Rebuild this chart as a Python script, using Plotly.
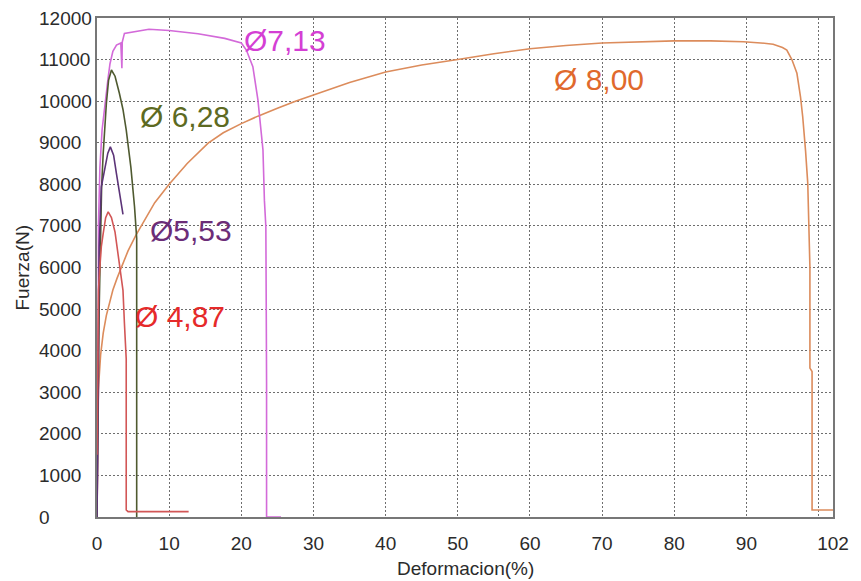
import plotly.graph_objects as go

# Force-deformation curves of steel bars of several diameters (mm)
def_800 = [0, 0.05, 0.18, 0.5, 0.86, 1.3, 1.7, 2.2, 2.8, 3.37, 4.3, 5.4, 6.5, 8, 10, 12.5, 15.4, 17.5,
           20, 22.3, 25, 27.5, 30, 35, 40, 45, 50, 55, 60, 65, 70, 75, 80, 85, 89.6, 92, 93.7, 95, 95.6,
           96.3, 97, 97.5, 97.8, 98.2, 98.5, 98.8, 98.8, 99.1, 99.1, 100, 102]
f_800 = [0, 1500, 3050, 3900, 4420, 4850, 5150, 5460, 5750, 5990, 6400, 6780, 7120, 7560, 8000, 8500,
         8990, 9240, 9460, 9640, 9830, 10000, 10150, 10450, 10700, 10870, 11000, 11140, 11260, 11340,
         11400, 11430, 11450, 11450, 11430, 11400, 11370, 11290, 11230, 11000, 10670, 10100, 9630, 8800,
         8030, 6010, 3580, 3500, 170, 170, 170]

def_713 = [0, 0.2, 0.2, 0.4, 0.7, 1.1, 1.5, 1.8, 2.2, 2.7, 3.3, 3.45, 3.5, 3.8, 5, 7.2, 10, 12.7, 14,
           17.7, 20, 20.7, 21.6, 22.3, 23, 23.2, 23.4, 23.45, 23.55, 23.5, 23.5, 25.5]
f_713 = [0, 3000, 7000, 8400, 9300, 9950, 10500, 10900, 11200, 11350, 11400, 10790, 11420, 11630,
         11670, 11730, 11700, 11640, 11620, 11510, 11400, 11230, 10830, 10030, 8830, 7620, 6980, 5220,
         3220, 3200, 0, 0]

def_628 = [0, 0.3, 0.64, 0.86, 1.3, 1.6, 2.0, 2.5, 3.1, 3.6, 4.05, 4.7, 5.2, 5.45, 5.5, 5.5]
f_628 = [0, 5000, 7940, 8750, 9950, 10500, 10750, 10600, 10190, 9800, 9310, 8400, 7460, 6800, 6700, 0]

def_553 = [0, 0.1, 0.15, 0.3, 0.6, 1.1, 1.5, 1.85, 2.3, 2.7, 3.1, 3.6]
f_553 = [0, 2000, 4500, 6500, 7940, 8350, 8750, 8900, 8700, 8250, 7850, 7280]

def_487 = [0, 0.05, 0.2, 0.4, 0.6, 0.86, 1.2, 1.55, 2.0, 2.5, 3.1, 3.4, 3.6, 3.8, 3.96, 4.05, 4.05,
           4.3, 12.7]
f_487 = [1500, 3000, 5460, 6020, 6500, 6820, 7200, 7340, 7200, 6850, 6150, 5800, 5450, 4660, 3860,
         3800, 170, 130, 130]

# Diameter labels: text, x, y
labels = ["Ø7,13", "Ø 8,00", "Ø 6,28", "Ø5,53", "Ø 4,87"]
label_x = [26.0, 69.6, 12.25, 13.05, 11.5]
label_y = [11470, 10510, 9620, 6890, 4810]

x_ticks = [0, 10, 20, 30, 40, 50, 60, 70, 80, 90, 100, 102]
x_ticktext = ["0", "10", "20", "30", "40", "50", "60", "70", "80", "90", "", "102"]
y_ticks = [0, 1000, 2000, 3000, 4000, 5000, 6000, 7000, 8000, 9000, 10000, 11000, 12000]
y_ticktext = ["0", "1000", "2000", "3000", "4000", "5000", "6000", "7000", "8000", "9000",
              "10000", "11000", "12000"]

FONT = "Liberation Sans, Arial"
TXT = "#2b2b2b"

series = [
    (def_800, f_800, "#dc8c5c"),
    (def_713, f_713, "#d36ad9"),
    (def_628, f_628, "#4f5a30"),
    (def_553, f_553, "#5c3478"),
    (def_487, f_487, "#d25656"),
]
label_colors = ["#d43fd4", "#e0692d", "#5d6a22", "#6c2d78", "#e62a2a"]

fig = go.Figure()
for xs, ys, col in series:
    fig.add_trace(go.Scatter(x=xs, y=ys, mode="lines", line=dict(color=col, width=1.6),
                             showlegend=False, hoverinfo="skip"))

for t, lx, ly, c in zip(labels, label_x, label_y, label_colors):
    fig.add_annotation(x=lx, y=ly, text=t, showarrow=False,
                       font=dict(family=FONT, size=30, color=c))

# Left-aligned force tick labels
for v, t in zip(y_ticks, y_ticktext):
    fig.add_annotation(x=0, xref="paper", y=v, yref="y", xshift=-60, xanchor="left",
                       text=t, showarrow=False, font=dict(family=FONT, size=19, color=TXT))

# Axis titles
fig.add_annotation(x=0, xref="paper", xshift=-75, xanchor="center", y=0.5, yref="paper",
                   yanchor="middle", text="Fuerza(N)", textangle=-90, showarrow=False,
                   font=dict(family=FONT, size=19, color=TXT))
fig.add_annotation(x=0.5, xref="paper", y=0, yref="paper", yshift=-51, yanchor="middle",
                   text="Deformacion(%)", showarrow=False,
                   font=dict(family=FONT, size=19, color=TXT))

axis_common = dict(
    showline=True, linecolor="#777777", linewidth=2, mirror=True,
    showgrid=True, gridcolor="#6e6e6e", gridwidth=1, griddash="2px,2px",
    zeroline=False, ticks="",
)

fig.update_xaxes(range=[0, 102], tickmode="array", tickvals=x_ticks, ticktext=x_ticktext,
                 tickfont=dict(family=FONT, size=19, color=TXT),
                 ticklabelstandoff=8, **axis_common)
fig.update_yaxes(range=[0, 12000], tickmode="array", tickvals=y_ticks, showticklabels=False,
                 **axis_common)

fig.update_layout(
    width=861, height=581,
    margin=dict(l=97, r=17, t=18, b=64),
    paper_bgcolor="white", plot_bgcolor="white",
)

fig.write_html("out.html")
